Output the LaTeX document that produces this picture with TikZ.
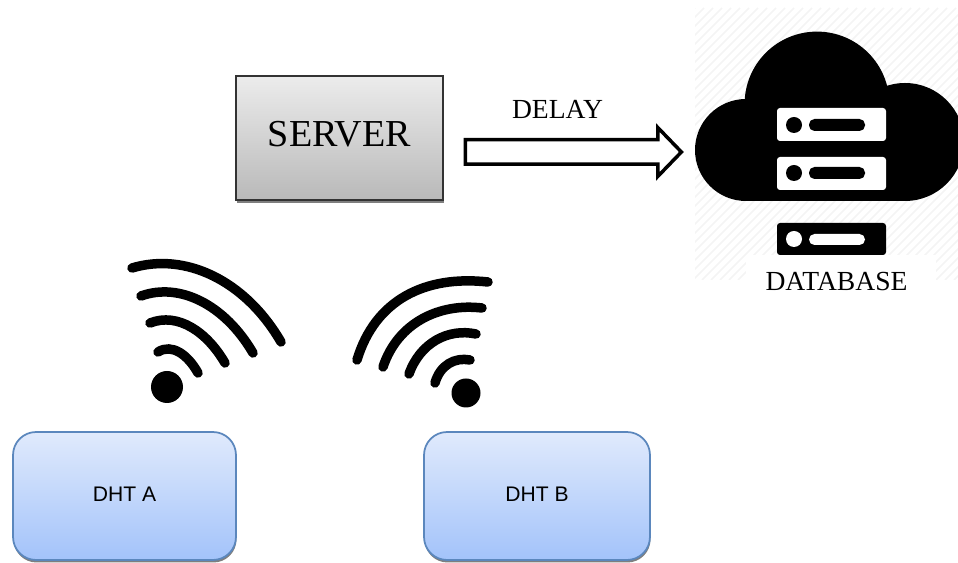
\documentclass[tikz,border=0pt]{standalone}
\usepackage{fontspec}
\setmainfont{Liberation Serif}
\setsansfont{Liberation Sans}
\usepackage{tikz}
\usetikzlibrary{shapes.arrows, shadows}

\definecolor{dhtline}{HTML}{5B87BD}
\definecolor{dhttop}{HTML}{E0EAFC}
\definecolor{dhtbottom}{HTML}{A3C3FA}
\definecolor{hatchgray}{HTML}{F4F4F4}

\tikzset{
  serverbox/.style={draw=black!80, line width=0.035cm, top color=gray!15, bottom color=gray!55,
    minimum width=4.14cm, minimum height=2.48cm, text depth=0.16cm, font=\fontsize{21.7}{25}\selectfont,
    drop shadow={shadow xshift=0.02cm, shadow yshift=-0.06cm, opacity=0.5, fill=black}},
  dhtbox/.style={draw=dhtline, line width=0.035cm, rounded corners=0.46cm,
    top color=dhttop, bottom color=dhtbottom, minimum height=2.56cm, text depth=0.08cm,
    font=\sffamily\fontsize{12}{14}\selectfont,
    drop shadow={shadow xshift=0.01cm, shadow yshift=-0.05cm, opacity=0.5, fill=black}},
  wave/.style={line width=0.19cm, line cap=round},
  caption/.style={font=\fontsize{15.7}{18}\selectfont}
}

\begin{document}
\begin{tikzpicture}[x=0.02cm, y=-0.02cm]
\useasboundingbox (0,0) rectangle (958,563);
\clip (0,0) rectangle (958,563);

% Hatched square behind the cloud
\begin{scope}
\clip (695,8) rectangle (958,280);
\foreach \i in {0,9,...,560} {
  \draw[hatchgray, line width=0.03cm] (695+\i,8) -- (695+\i-272,280);
}
\end{scope}
\fill[white] (746,255) rectangle (936,290);

% Cloud
\fill[black] (746,150) circle (51);
\fill[black] (817,104) circle (72.4);
\fill[black] (905,142) circle (59);
\fill[black] (746,110) rectangle (905,201);

% Racks
\fill[white, rounded corners=0.06cm] (777,108) rectangle (886,141);
\fill[black] (794,125) circle (8);
\fill[black, rounded corners=0.11cm] (809,119) rectangle (865,131);

\fill[white, rounded corners=0.06cm] (777,157) rectangle (886,190);
\fill[black] (794,173) circle (8);
\fill[black, rounded corners=0.11cm] (809,167) rectangle (865,179);

\fill[black, rounded corners=0.06cm] (777,223) rectangle (886,255);
\fill[white] (794,239) circle (8);
\fill[white, rounded corners=0.11cm] (809,234) rectangle (865,245);

\node[caption] (database) at (836.5,282) {DATABASE};

% Server and arrow
\node[serverbox] (server) at (339.5,138) {SERVER};
\node[caption] (delay) at (557.5,109) {DELAY};
\node[draw=black, line width=0.07cm, fill=white, shape=single arrow, inner xsep=0pt, inner ysep=0.21cm,
  outer sep=0pt, minimum height=4.32cm, minimum width=0.95cm, single arrow head extend=0.24cm,
  single arrow tip angle=92] (delayarrow) at (567.5,152) {};

% Left signal
\fill[black] (167,387) circle (16);
\draw[wave] (158,352) .. controls (172,343) and (188,355) .. (198,373);
\draw[wave] (150,323) .. controls (178,312) and (207,332) .. (225,363);
\draw[wave] (141,296) .. controls (180,282) and (225,305) .. (253,353);
\draw[wave] (132,268) .. controls (185,252) and (245,280) .. (281,342);

% Right signal
\fill[black] (466,393) circle (14.5);
\draw[wave] (435,383) .. controls (440,365) and (455,357) .. (470,360);
\draw[wave] (409,374) .. controls (420,343) and (448,328) .. (476,334);
\draw[wave] (383,367) .. controls (398,322) and (440,303) .. (482,308);
\draw[wave] (357,360) .. controls (375,300) and (425,275) .. (488,282);

% Sensors
\node[dhtbox, minimum width=4.46cm] (dhta) at (124.5,496) {DHT A};
\node[dhtbox, minimum width=4.52cm] (dhtb) at (537,496) {DHT B};
\end{tikzpicture}
\end{document}
